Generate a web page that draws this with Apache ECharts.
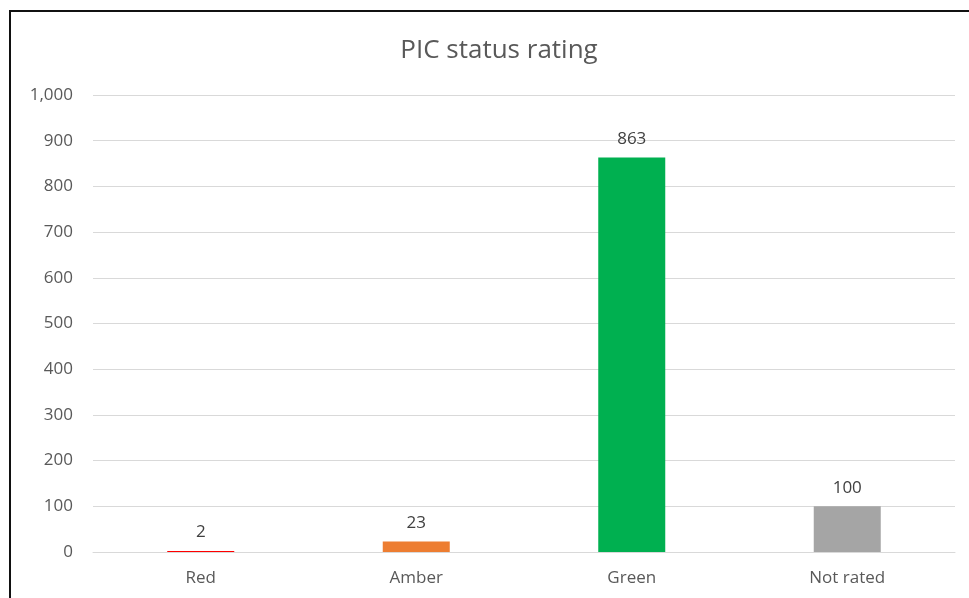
<!DOCTYPE html>
<html>
<head>
<meta charset="utf-8">
<script src="https://cdn.jsdelivr.net/npm/echarts@6/dist/echarts.min.js"></script>
<style>
  html, body { margin: 0; padding: 0; background: #fff; }
  #frame { position: absolute; left: 9px; top: 10px; width: 975px; height: 600px;
           border-left: 2px solid #111; border-top: 2px solid #111; box-sizing: border-box; }
  #chart { position: absolute; left: 0; top: 0; width: 969px; height: 598px; }
</style>
</head>
<body>
<div id="frame"></div>
<div id="chart"></div>
<script>
// PIC status rating - simple column chart

const categories = ['Red', 'Amber', 'Green', 'Not rated'];
const counts = [2, 23, 863, 100];
const barColors = ['#FF0000', '#ED7D31', '#00B050', '#A5A5A5'];

const chart = echarts.init(document.getElementById('chart'), null, { renderer: 'canvas' });

const FONT = '"Open Sans", sans-serif';

chart.setOption({
  animation: false,
  title: {
    text: 'PIC status rating',
    left: 494, top: 33, textAlign: 'center',
    textStyle: { fontFamily: FONT, fontSize: 26, fontWeight: 'normal', color: '#595959' }
  },
  grid: { left: 93, right: 14, top: 95, bottom: 46 },
  xAxis: {
    type: 'category',
    data: categories,
    axisLine: { lineStyle: { color: '#D9D9D9', width: 1 } },
    axisTick: { show: false },
    axisLabel: { fontFamily: FONT, fontSize: 17, color: '#595959', margin: 18 }
  },
  yAxis: {
    type: 'value',
    min: 0, max: 1000, interval: 100,
    axisLine: { show: false },
    axisTick: { show: false },
    splitLine: { lineStyle: { color: '#D9D9D9', width: 1 } },
    axisLabel: {
      fontFamily: FONT, fontSize: 17, color: '#595959', margin: 20,
      formatter: v => v.toLocaleString('en-US')
    }
  },
  series: [{
    type: 'bar',
    barWidth: 67,
    data: counts.map((v, i) => ({ value: v, itemStyle: { color: barColors[i] } })),
    label: {
      show: true, position: 'top', distance: 10,
      fontFamily: FONT, fontSize: 17, color: '#404040'
    }
  }]
});
</script>
</body>
</html>
